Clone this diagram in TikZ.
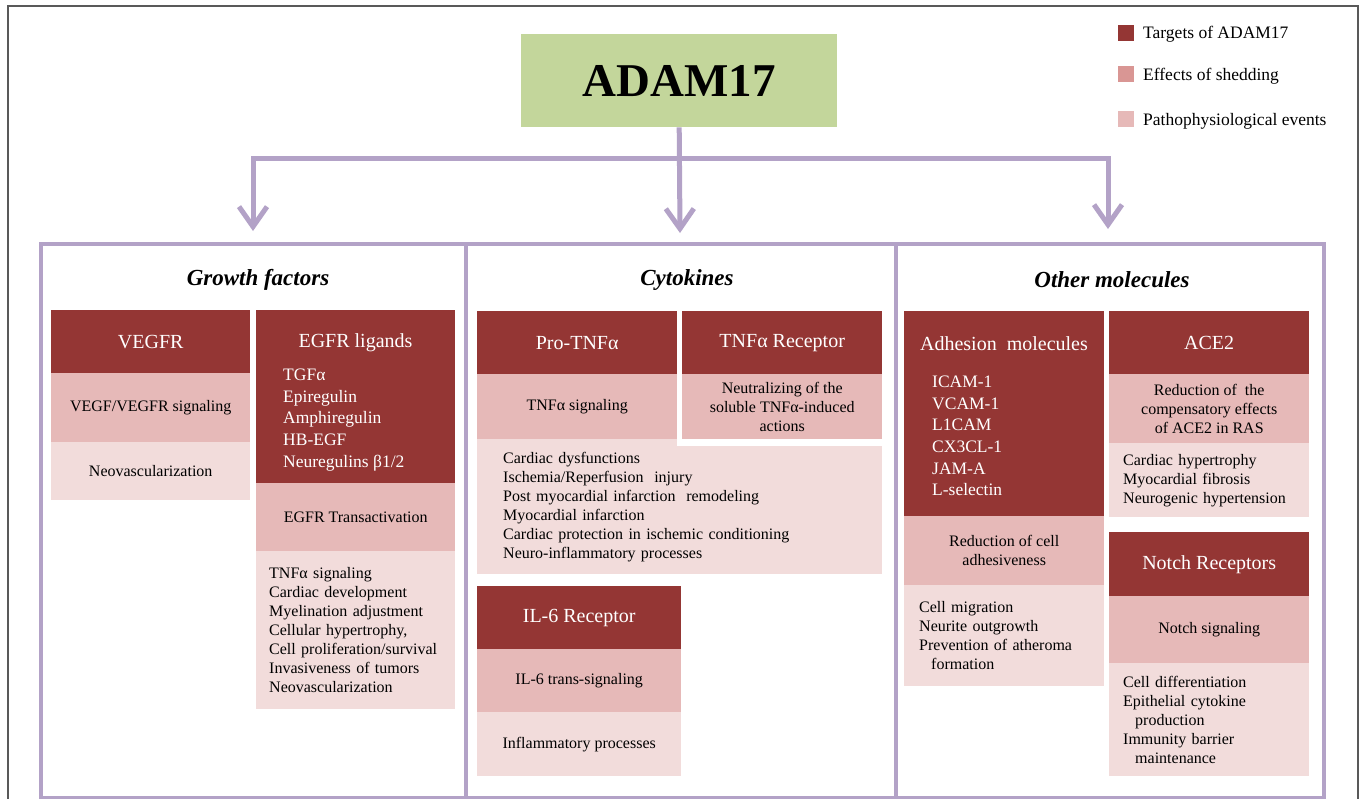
\documentclass[tikz,border=0pt]{standalone}
\usepackage{fontspec}
\setmainfont{Liberation Serif}
\usepackage{xcolor}
\usetikzlibrary{arrows.meta, positioning}

\definecolor{adamgreen}{HTML}{C3D69B}
\definecolor{tgtred}{HTML}{943634}
\definecolor{shedpink}{HTML}{E6B9B8}
\definecolor{pathpink}{HTML}{F2DCDB}
\definecolor{legmid}{HTML}{D99694}
\definecolor{flowpurple}{HTML}{B3A2C7}

\begin{document}
\begin{tikzpicture}[
  x = 1pt, y = -1pt,
  font = \fontsize{16}{19}\selectfont,
  cell/.style = {rectangle, inner sep=0pt, anchor=north west, minimum width=200pt},
  hdr/.style = {text=white, font=\fontsize{20}{24}\selectfont},
  tgt/.style = {cell, hdr, fill=tgtred},
  shed/.style = {cell, fill=shedpink, align=center},
  patho/.style = {cell, fill=pathpink},
  plist/.style = {patho, align=left, inner xsep=14pt},
  wlist/.style = {text=white, font=\fontsize{17.5}{21.6}\selectfont,
                  align=left, anchor=west, inner sep=0pt},
  panel/.style = {rectangle, draw=flowpurple, line width=3.5pt, anchor=north west,
                  minimum height=554pt, inner sep=0pt},
  ttl/.style = {font=\fontsize{23}{28}\selectfont\bfseries\itshape},
  adambox/.style = {rectangle, fill=adamgreen, anchor=north west, inner sep=0pt,
                    minimum width=316pt, minimum height=93pt,
                    font=\fontsize{47}{56}\selectfont\bfseries},
  flow/.style = {draw=flowpurple, line width=5pt,
                 >={Straight Barb[length=20pt, width=28pt]}},
  legsq/.style = {rectangle, minimum size=16pt, inner sep=0pt},
  legtxt/.style = {font=\fontsize{17.5}{21}\selectfont, inner sep=0pt, anchor=base west},
]
\useasboundingbox (0,0) rectangle (1362,798);
\fill[white] (0,0) rectangle (1362,798);
\draw[gray!70!black, line width=1.2pt] (8,6) rectangle (1358,812);

% top of the tree
\node[adambox] (adam) at (521,34) {ADAM17};

\node[legsq, fill=tgtred] (legTgt) at (1126,33) {};
\node[legtxt] (legTgtTxt) at (1143,38) {Targets of ADAM17};
\node[legsq, fill=legmid] (legShed) at (1126,73.5) {};
\node[legtxt] (legShedTxt) at (1143,80) {Effects of shedding};
\node[legsq, fill=shedpink] (legPath) at (1126,118.5) {};
\node[legtxt] (legPathTxt) at (1143,125) {Pathophysiological events};

% three panels
\node[panel, minimum width=425pt] (gfPanel) at (39,242) {};
\node[panel, minimum width=430pt] (cytPanel) at (464,242) {};
\node[panel, minimum width=428pt] (othPanel) at (894,242) {};

\node[ttl] (gfTitle) at (258,280) {Growth factors};
\node[ttl] (cytTitle) at (687,280) {Cytokines};
\node[ttl] (othTitle) at (1112,280) {Other molecules};

% growth factors
\node[tgt, minimum width=199pt, minimum height=63pt] (vegfr) at (51,310) {VEGFR};
\node[shed, minimum width=199pt, minimum height=69pt] (vegfrSig) at (51,373) {VEGF/VEGFR signaling};
\node[patho, minimum width=199pt, minimum height=58pt] (vegfrNeo) at (51,442) {Neovascularization};

\node[tgt, minimum width=199pt, minimum height=173pt] (egfr) at (256,310) {};
\node[hdr] (egfrHead) at (355.5,343) {EGFR ligands};
\node[wlist] (egfrList) at (283,420) {TGFα\\Epiregulin\\Amphiregulin\\HB-EGF\\Neuregulins β1/2};
\node[shed, minimum width=199pt, minimum height=68pt] (egfrTrans) at (256,483) {EGFR Transactivation};
\node[plist, minimum width=199pt, minimum height=158pt, text width=173pt, inner xsep=13pt] (egfrFx) at (256,551)
  {TNFα signaling\\Cardiac development\\Myelination adjustment\\Cellular hypertrophy,\\Cell proliferation/survival\\Invasiveness of tumors\\Neovascularization};

% cytokines
\node[tgt, minimum height=63pt] (protnf) at (477,311) {Pro-TNFα};
\node[shed, minimum height=65pt] (protnfSig) at (477,374) {TNFα signaling};
\node[plist, minimum width=405pt, minimum height=135pt, text width=353pt, inner xsep=26pt] (tnfFx) at (477,439)
  {Cardiac dysfunctions\\Ischemia/Reperfusion\ \ injury\\Post myocardial infarction\ \ remodeling\\Myocardial infarction\\Cardiac protection in ischemic conditioning\\Neuro-inflammatory processes};
\fill[white] (protnfSig.south east) rectangle ++(205,7);
\node[tgt, minimum height=63pt] (tnfr) at (682,311) {TNFα Receptor};
\node[shed, minimum height=65pt] (tnfrNeut) at (682,374) {Neutralizing of the\\soluble TNFα-induced\\actions};

\node[tgt, minimum width=204pt, minimum height=63pt] (il6r) at (477,586) {IL-6 Receptor};
\node[shed, minimum width=204pt, minimum height=63pt] (il6Sig) at (477,649) {IL-6 trans-signaling};
\node[patho, minimum width=204pt, minimum height=64pt] (il6Fx) at (477,712) {Inflammatory processes};

% other molecules
\node[tgt, minimum height=205pt] (adh) at (904,311) {};
\node[hdr] (adhHead) at (1004,344) {Adhesion\ \ molecules};
\node[wlist] (adhList) at (932,436) {ICAM-1\\VCAM-1\\L1CAM\\CX3CL-1\\JAM-A\\L-selectin};
\node[shed, minimum height=69pt] (adhRed) at (904,516) {Reduction of cell\\adhesiveness};
\node[plist, minimum height=101pt, text width=170pt, inner xsep=15pt] (adhFx) at (904,585)
  {Cell migration\\Neurite outgrowth\\Prevention of atheroma\\\hspace*{12pt}formation};

\node[tgt, minimum height=63pt] (ace2) at (1109,311) {ACE2};
\node[shed, minimum height=69pt] (ace2Red) at (1109,374) {Reduction of\ \ the\\compensatory effects\\of ACE2 in RAS};
\node[plist, minimum height=74pt, text width=172pt] (ace2Fx) at (1109,443)
  {Cardiac hypertrophy\\Myocardial fibrosis\\Neurogenic hypertension};

\node[tgt, minimum height=64pt] (notch) at (1109,532) {Notch Receptors};
\node[shed, minimum height=67pt] (notchSig) at (1109,596) {Notch signaling};
\node[plist, minimum height=113pt, text width=172pt] (notchFx) at (1109,663)
  {Cell differentiation\\Epithelial cytokine\\\hspace*{12pt}production\\Immunity barrier\\\hspace*{12pt}maintenance};

% arrows
\coordinate (busL) at (253,158);
\coordinate (busR) at (1108,158);
\coordinate (tipL) at (253,231);
\coordinate (tipM) at (680,233);
\coordinate (tipR) at (1108,229);
\draw[flow, <->] (tipL) -- (busL) -- (busR) -- (tipR);
\draw[flow, ->] (adam.south) -- (tipM);
\end{tikzpicture}
\end{document}
